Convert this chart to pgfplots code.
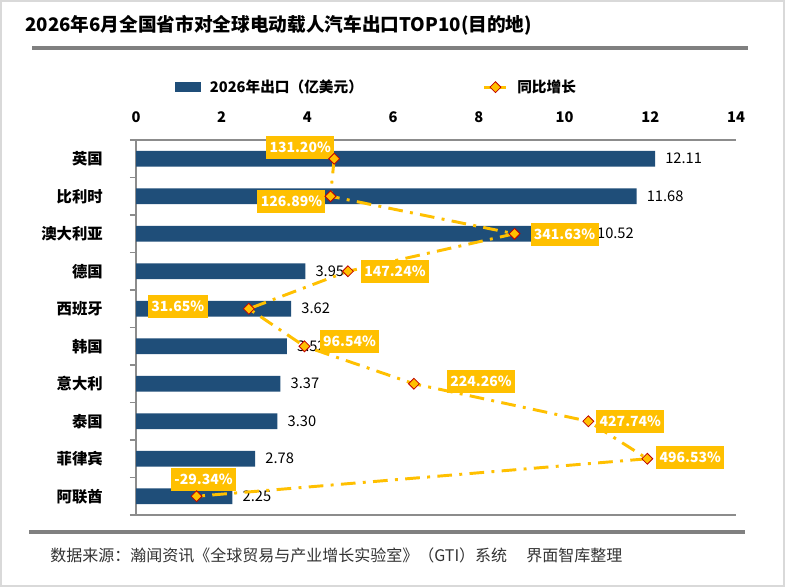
\documentclass[border=0pt]{standalone}
\usepackage{pgfplots}
\pgfplotsset{compat=1.18}
\usepackage{fontspec}
\setmainfont{Noto Sans CJK SC}
\definecolor{barblue}{HTML}{1F4E79}
\definecolor{gold}{HTML}{FFC000}
\definecolor{mkred}{HTML}{C00000}
\definecolor{axgray}{HTML}{8C8C8C}
\definecolor{rulegray}{HTML}{808080}
\definecolor{framegray}{HTML}{D9D9D9}
\pgfplotsset{/pgf/number format/assume math mode=true}
\tikzset{glab/.style={fill=gold, text=white, font=\bfseries\fontsize{10.5}{12}\selectfont, inner xsep=2.5pt, minimum height=17pt, inner ysep=0pt}}
\begin{document}
\begin{tikzpicture}
\useasboundingbox (0,0) rectangle (588.75pt,-440.25pt);
\fill[white] (0,0) rectangle (588.75pt,-440.25pt);
\draw[framegray, line width=1.5pt] (0.75pt,-0.75pt) rectangle (588pt,-439.5pt);
\node[anchor=west, inner sep=0pt, font=\bfseries\fontsize{14}{16}\selectfont] at (18.75pt,-18.75pt) {2026年6月全国省市对全球电动载人汽车出口TOP10(目的地)};
\draw[rulegray, line width=2.4pt] (24pt,-36pt) -- (561pt,-36pt);
\draw[rulegray, line width=2.4pt] (21.75pt,-399pt) -- (558.75pt,-399pt);
\node[anchor=west, inner sep=0pt, text=black!80, font=\fontsize{12}{14}\selectfont] at (37.5pt,-416.25pt) {数据来源：瀚闻资讯《全球贸易与产业增长实验室》（GTI）系统\hspace{1.2em}界面智库整理};

\begin{axis}[
  at={(102pt,-386.25pt)}, anchor=south west,
  scale only axis, width=450pt, height=281.25pt,
  xmin=0, xmax=14, ymin=-0.5, ymax=9.5, y dir=reverse,
  enlargelimits=false,
  axis x line*=top, axis y line*=left,
  axis line style={axgray, line width=1pt},
  xtick={0,2,...,14},
  ytick={0,...,9},
  yticklabels={英国,比利时,澳大利亚,德国,西班牙,韩国,意大利,泰国,菲律宾,阿联酋},
  minor ytick={-0.5,0.5,...,9.5},
  major tick length=0pt, minor tick length=4.5pt, tick align=outside,
  tick style={axgray, line width=0.9pt},
  xticklabel style={font=\bfseries\fontsize{11}{13}\selectfont, anchor=south, inner sep=0pt, yshift=12.75pt},
  yticklabel style={font=\bfseries\fontsize{11.5}{13}\selectfont, anchor=east, inner sep=0pt, xshift=-24.75pt},
  legend style={at={(0.401,1.141)}, anchor=center, draw=none, fill=none, inner sep=0pt,
    legend columns=2, font=\bfseries\fontsize{11}{13}\selectfont,
    /tikz/every odd column/.append style={column sep=5pt},
    /tikz/every even column/.append style={column sep=88pt},
    cells={anchor=west}},
  clip=false,
]
\addplot[xbar, fill=barblue, draw=none, bar width=11.75pt,
  point meta=x,
  nodes near coords={\pgfmathprintnumber[fixed,fixed zerofill,precision=2]{\pgfplotspointmeta}},
  nodes near coords style={anchor=west, inner sep=0pt, xshift=7.5pt, text=black, font=\fontsize{11}{13}\selectfont},
  legend image code/.code={\fill[barblue] (0pt,-3.75pt) rectangle (19.5pt,3.75pt);}
] coordinates {(12.11,0) (11.68,1) (10.52,2) (3.95,3) (3.62,4) (3.52,5) (3.37,6) (3.30,7) (2.78,8) (2.25,9)};
\addlegendentry{2026年出口（亿美元）}
\addlegendimage{legend image code/.code={
  \draw[gold, line width=2.2pt] (0pt,0pt) -- (16.5pt,0pt);
  \draw[gold, line width=0.6pt, mark=square*, mark size=2.9pt, mark options={rotate=45, fill=gold, draw=mkred, solid, line width=0.6pt}] plot coordinates {(8.25pt,0pt)};}}
\addlegendentry{同比增长}
\draw[axgray, line width=1pt] (axis cs:0,9.5) -- (axis cs:14,9.5);
\end{axis}

\begin{axis}[
  at={(102pt,-386.25pt)}, anchor=south west,
  scale only axis, width=450pt, height=281.25pt,
  xmin=-100, xmax=600, ymin=-0.5, ymax=9.5, y dir=reverse,
  hide axis, clip=false,
]
\addplot[gold, line width=2.2pt, dash pattern=on 11pt off 5.5pt on 2.2pt off 5.5pt,
  mark=square*, mark size=2.9pt,
  mark options={rotate=45, fill=gold, draw=mkred, solid, line width=0.6pt}]
  coordinates {(131.20,0) (126.89,1) (341.63,2) (147.24,3) (31.65,4) (96.54,5) (224.26,6) (427.74,7) (496.53,8) (-29.34,9)};
\node[glab, xshift=-25.5pt, yshift=8.25pt] at (axis cs:131.20,0) {131.20\%};
\node[glab, xshift=-29.25pt, yshift=-3.75pt] at (axis cs:126.89,1) {126.89\%};
\node[glab, xshift=37.5pt, yshift=-0.75pt] at (axis cs:341.63,2) {341.63\%};
\node[glab, xshift=35.25pt, yshift=0pt] at (axis cs:147.24,3) {147.24\%};
\node[glab, xshift=-53.25pt, yshift=1.5pt] at (axis cs:31.65,4) {31.65\%};
\node[glab, xshift=33.75pt, yshift=3.75pt] at (axis cs:96.54,5) {96.54\%};
\node[glab, xshift=50.25pt, yshift=1.5pt] at (axis cs:224.26,6) {224.26\%};
\node[glab, xshift=31.5pt, yshift=0pt] at (axis cs:427.74,7) {427.74\%};
\node[glab, xshift=32.25pt, yshift=0.75pt] at (axis cs:496.53,8) {496.53\%};
\node[glab, xshift=5.25pt, yshift=12.75pt] at (axis cs:-29.34,9) {-29.34\%};
\end{axis}
\end{tikzpicture}
\end{document}
